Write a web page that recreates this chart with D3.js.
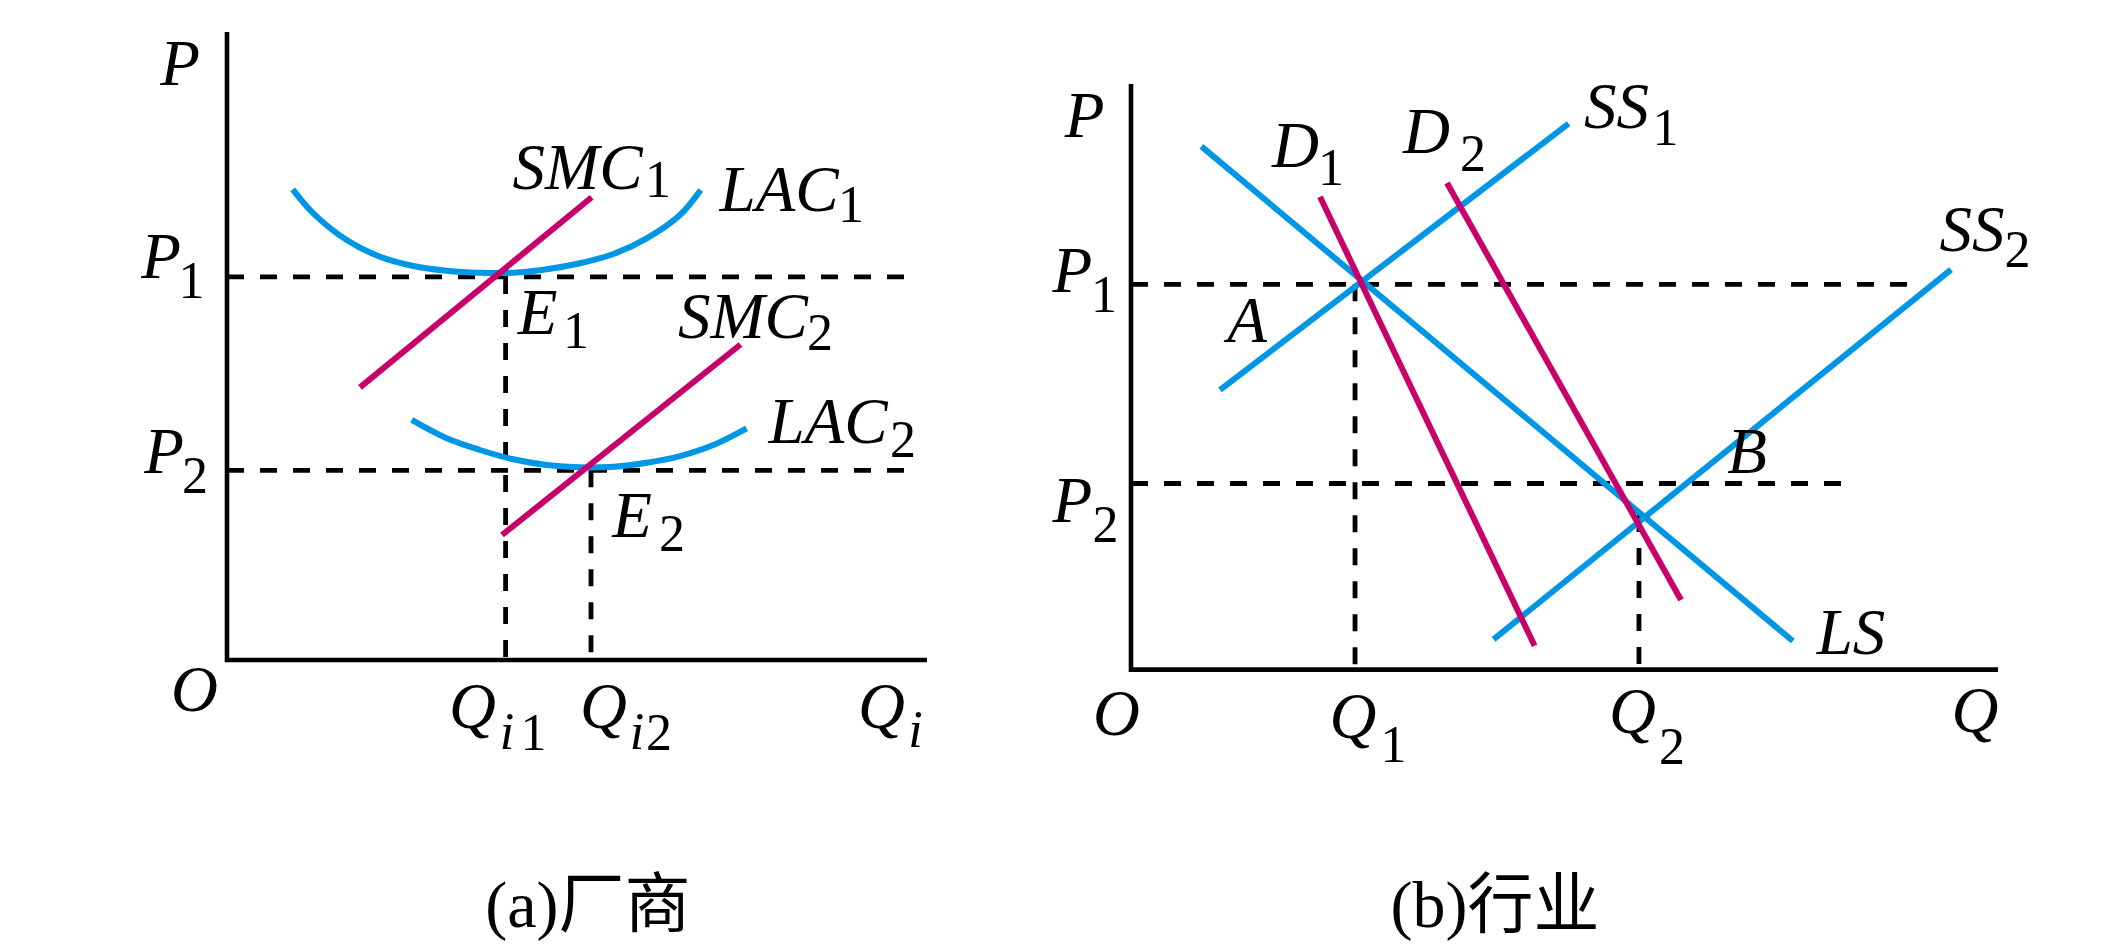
<!DOCTYPE html>
<html>
<head>
<meta charset="utf-8">
<script src="https://cdn.jsdelivr.net/npm/d3@7"></script>
<style>
  html, body { margin: 0; padding: 0; background: #ffffff; }
  svg { display: block; }
</style>
</head>
<body>
<svg id="chart" width="2126" height="944"></svg>
<script>
// ---------------- DATA ----------------
// (a) Firm panel — values in abstract units (Q 0..100, P 0..100)
const firmPrices = [61.0, 30.2];          // P1, P2
const firmQuantities = [39.8, 52.0];      // Qi1, Qi2
const firmDashEnd = 97.9;                 // horizontal guide extent
const lac1 = [[9.39,74.95],[12.33,71.13],[17.1,66.88],[21.86,64.22],[26.61,62.74],[31.39,61.99],
              [36.14,61.67],[40.9,61.67],[45.67,62.21],[50.43,63.17],[55.19,64.65],[59.96,67.15],
              [64.71,70.86],[67.67,74.84]];
const lac2 = [[26.39,38.22],[31.39,35.3],[36.14,33.44],[40.9,31.96],[45.67,31.05],[50.43,30.68],
              [55.19,30.78],[59.96,31.42],[64.71,32.48],[69.47,34.24],[74.24,36.9]];
const smc1 = [[19.0,43.42],[52.1,73.68]];
const smc2 = [[39.29,19.9],[73.36,50.24]];

// (b) Industry panel
const industryPrices = [65.8, 31.78];     // P1, P2
const industryPriceDashEnds = [90.2, 82.7];
const industryQuantities = [25.84, 58.59]; // Q1, Q2
const industryQ2Top = 26.4;               // LS / SS2 crossing level
const ls  = [[8.12,89.34],[76.34,4.88]];
const ss1 = [[10.27,47.75],[50.47,93.24]];
const ss2 = [[41.82,5.17],[94.58,68.31]];
const d1  = [[21.8,80.74],[46.55,4.08]];
const d2  = [[36.45,83.09],[63.44,11.89]];

// Labels: text, anchor in data units, italic?, subscript?
const firmLabels = [
  ["P",-6.71,91.56,true,false],
  ["P",-9.43,60.83,true,false],["1",-5.07,57.64,false,true],
  ["P",-9.0,29.78,true,false],["2",-4.57,26.59,false,true],
  ["O",-4.64,-8.12,true,false],
  ["SMC",50.07,75.0,true,false],["1",61.57,73.73,false,true],
  ["LAC",78.86,71.5,true,false],["1",89.14,69.75,false,true],
  ["E",44.36,51.91,true,false],["1",49.86,49.68,false,true],
  ["SMC",73.71,51.27,true,false],["2",84.71,49.36,false,true],
  ["LAC",85.86,34.55,true,false],["2",96.57,32.32,false,true],
  ["E",57.86,19.59,true,false],["2",63.57,17.36,false,true],
  ["Q",35.07,-10.83,true,false],["i",40.0,-14.17,true,true],["1",43.79,-14.33,false,true],
  ["Q",53.79,-10.83,true,false],["i",58.57,-14.17,true,true],["2",61.71,-14.33,false,true],
  ["Q",93.5,-10.83,true,false],["i",98.36,-13.85,true,true]
];
const industryLabels = [
  ["P",-5.36,90.95,true,false],
  ["P",-6.75,64.48,true,false],["1",-3.11,61.07,false,true],
  ["P",-6.75,25.12,true,false],["2",-2.94,21.79,false,true],
  ["O",-1.67,-11.17,true,false],
  ["A",13.38,55.94,true,false],
  ["D",18.97,85.83,true,false],["1",23.07,82.75,false,true],
  ["D",34.08,88.22,true,false],["2",39.45,85.14,false,true],
  ["SS",56.0,92.49,true,false],["1",61.65,89.58,false,true],
  ["SS",97.0,71.48,true,false],["2",102.25,68.74,false,true],
  ["B",71.05,33.49,true,false],
  ["LS",83.04,2.66,true,false],
  ["Q",25.61,-11.68,true,false],["1",30.28,-15.78,false,true],
  ["Q",57.84,-10.83,true,false],["2",62.4,-16.13,false,true],
  ["Q",97.35,-10.65,true,false]
];
const captions = [["(a)厂商", 51.57, -42.52], ["(b)行业", 41.98, -43.97]];

// ---------------- LAYOUT ----------------
const svg = d3.select("#chart");
svg.append("rect").attr("width",2126).attr("height",944).attr("fill","#ffffff");

const BLUE = "#0096e6", MAGENTA = "#c8006c", INK = "#000000";
const FONT = "'Liberation Serif','Times New Roman',serif";

const panels = [
  { x: d3.scaleLinear().domain([0,100]).range([227,927]),
    y: d3.scaleLinear().domain([0,100]).range([660,32]) },
  { x: d3.scaleLinear().domain([0,100]).range([1131,1998]),
    y: d3.scaleLinear().domain([0,100]).range([669.6,84]) }
];

function lineGen(p, curve) {
  const g = d3.line().x(d => p.x(d[0])).y(d => p.y(d[1]));
  if (curve) g.curve(curve);
  return g;
}
function dashed(g, p, pts) {
  g.append("path").attr("d", lineGen(p)(pts))
    .attr("fill","none").attr("stroke",INK).attr("stroke-width",4.8)
    .attr("stroke-dasharray","17,16");
}
function drawAxes(g, p) {
  g.append("path").attr("d", lineGen(p)([[0,100],[0,0],[100,0]]))
    .attr("fill","none").attr("stroke",INK).attr("stroke-width",4.6)
    .attr("stroke-linejoin","miter").attr("stroke-linecap","butt");
}
function drawCurve(g, p, pts, color, curve) {
  g.append("path").attr("d", lineGen(p, curve)(pts))
    .attr("fill","none").attr("stroke",color).attr("stroke-width",6)
    .attr("stroke-linecap","butt");
}
function drawLabels(g, p, labels) {
  g.selectAll("text.lbl").data(labels).join("text")
    .attr("class","lbl")
    .attr("x", d => p.x(d[1])).attr("y", d => p.y(d[2]))
    .attr("text-anchor","middle")
    .attr("font-family", FONT)
    .attr("font-style", d => d[3] ? "italic" : "normal")
    .attr("font-size", d => d[4] ? 52 : 65)
    .attr("fill", INK)
    .text(d => d[0]);
}

// ----- Panel (a) firm -----
{
  const p = panels[0];
  const g = svg.append("g");
  firmPrices.forEach(v => dashed(g, p, [[0,v],[firmDashEnd,v]]));
  firmQuantities.forEach((q,i) => dashed(g, p, [[q,firmPrices[i]],[q,0]]));
  drawAxes(g, p);
  drawCurve(g, p, lac1, BLUE, d3.curveCatmullRom);
  drawCurve(g, p, lac2, BLUE, d3.curveCatmullRom);
  drawCurve(g, p, smc1, MAGENTA);
  drawCurve(g, p, smc2, MAGENTA);
  drawLabels(g, p, firmLabels);
}

// ----- Panel (b) industry -----
{
  const p = panels[1];
  const g = svg.append("g");
  industryPrices.forEach((v,i) => dashed(g, p, [[0,v],[industryPriceDashEnds[i],v]]));
  dashed(g, p, [[industryQuantities[0],industryPrices[0]],[industryQuantities[0],0]]);
  dashed(g, p, [[industryQuantities[1],industryQ2Top],[industryQuantities[1],0]]);
  drawAxes(g, p);
  drawCurve(g, p, ls, BLUE);
  drawCurve(g, p, ss1, BLUE);
  drawCurve(g, p, ss2, BLUE);
  drawCurve(g, p, d1, MAGENTA);
  drawCurve(g, p, d2, MAGENTA);
  drawLabels(g, p, industryLabels);
}

// ----- Captions -----
captions.forEach((c,i) => {
  const p = panels[i];
  svg.append("text")
    .attr("x", p.x(c[1])).attr("y", p.y(c[2]))
    .attr("text-anchor","middle")
    .attr("font-family", "'Liberation Serif','Noto Sans CJK SC',serif")
    .attr("font-size", 66).attr("fill", INK)
    .text(c[0]);
});
</script>
</body>
</html>
